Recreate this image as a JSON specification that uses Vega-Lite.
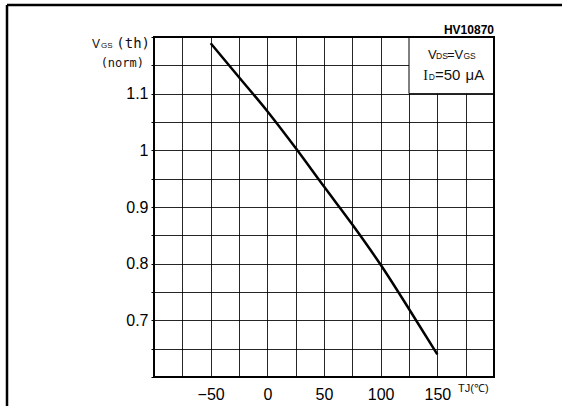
{
  "$schema": "https://vega.github.io/schema/vega-lite/v6.json",
  "width": 340,
  "height": 340,
  "autosize": {"type": "none"},
  "padding": {"left": 154, "top": 37, "right": 82, "bottom": 29},
  "background": "white",
  "config": {
    "view": {"stroke": null},
    "axis": {
      "grid": true,
      "gridColor": "#000000",
      "gridWidth": 1,
      "gridOpacity": 0.85,
      "domain": false,
      "labelFont": "Liberation Sans",
      "labelFontSize": 16,
      "labelColor": "#000000"
    },
    "text": {"font": "Liberation Sans", "fill": "#111111"}
  },
  "datasets": {
    "curve": [
      {"tj": -50, "vth": 1.189},
      {"tj": -25, "vth": 1.129},
      {"tj": 0, "vth": 1.069},
      {"tj": 25, "vth": 1.004},
      {"tj": 50, "vth": 0.936},
      {"tj": 75, "vth": 0.869},
      {"tj": 100, "vth": 0.798},
      {"tj": 125, "vth": 0.72},
      {"tj": 150, "vth": 0.64}
    ],
    "one": [{}]
  },
  "layer": [
    {
      "data": {"name": "curve"},
      "mark": {"type": "line", "color": "#000000", "strokeWidth": 2.5, "interpolate": "monotone"},
      "encoding": {
        "x": {"field": "tj", "type": "quantitative", "title": null, "scale": {"domain": [-100, 200], "nice": false, "zero": false},
          "axis": {"values": [-100, -75, -50, -25, 0, 25, 50, 75, 100, 125, 150, 175, 200], "labelExpr": "indexof([-50, 0, 50, 100, 150], datum.value) >= 0 ? format(datum.value, 'd') + (datum.value < 0 ? '\u2007' : '') : ''", "ticks": false, "labelPadding": 9}},
        "y": {"field": "vth", "type": "quantitative", "title": null, "scale": {"domain": [0.6, 1.2], "nice": false, "zero": false},
          "axis": {"values": [0.6, 0.65, 0.7, 0.75, 0.8, 0.85, 0.9, 0.95, 1, 1.05, 1.1, 1.15, 1.2], "labelExpr": "datum.value == 1 ? '1' : (indexof([0.7, 0.8, 0.9, 1.1], datum.value) >= 0 ? format(datum.value, '.1f') : '')", "ticks": true, "tickSize": 3, "tickColor": "#000000", "labelPadding": 3}}
      }
    },
    {
      "data": {"name": "one"},
      "mark": {"type": "rect", "fill": "white", "stroke": "#000000", "strokeWidth": 1},
      "encoding": {
        "x": {"datum": 125, "type": "quantitative", "title": null,
          "axis": {"values": [-100, -75, -50, -25, 0, 25, 50, 75, 100, 125, 150, 175, 200], "labelExpr": "indexof([-50, 0, 50, 100, 150], datum.value) >= 0 ? format(datum.value, 'd') + (datum.value < 0 ? '\u2007' : '') : ''", "ticks": false, "labelPadding": 9}},
        "x2": {"datum": 200},
        "y": {"datum": 1.1, "type": "quantitative", "title": null,
          "axis": {"values": [0.6, 0.65, 0.7, 0.75, 0.8, 0.85, 0.9, 0.95, 1, 1.05, 1.1, 1.15, 1.2], "labelExpr": "datum.value == 1 ? '1' : (indexof([0.7, 0.8, 0.9, 1.1], datum.value) >= 0 ? format(datum.value, '.1f') : '')", "ticks": true, "tickSize": 3, "tickColor": "#000000", "labelPadding": 3}},
        "y2": {"datum": 1.2}
      }
    },
    {
      "data": {"name": "one"},
      "mark": {"type": "rect", "fillOpacity": 0, "stroke": "#000000", "strokeWidth": 2},
      "encoding": {
        "x": {"datum": -100, "type": "quantitative", "title": null,
          "axis": {"values": [-100, -75, -50, -25, 0, 25, 50, 75, 100, 125, 150, 175, 200], "labelExpr": "indexof([-50, 0, 50, 100, 150], datum.value) >= 0 ? format(datum.value, 'd') + (datum.value < 0 ? '\u2007' : '') : ''", "ticks": false, "labelPadding": 9}},
        "x2": {"datum": 200},
        "y": {"datum": 0.6, "type": "quantitative", "title": null,
          "axis": {"values": [0.6, 0.65, 0.7, 0.75, 0.8, 0.85, 0.9, 0.95, 1, 1.05, 1.1, 1.15, 1.2], "labelExpr": "datum.value == 1 ? '1' : (indexof([0.7, 0.8, 0.9, 1.1], datum.value) >= 0 ? format(datum.value, '.1f') : '')", "ticks": true, "tickSize": 3, "tickColor": "#000000", "labelPadding": 3}},
        "y2": {"datum": 1.2}
      }
    },
    {
      "data": {"name": "one"},
      "mark": {"type": "rule", "color": "#000000", "strokeWidth": 2.5},
      "encoding": {
        "x": {"datum": -229.7, "type": "quantitative", "title": null,
          "axis": {"values": [-100, -75, -50, -25, 0, 25, 50, 75, 100, 125, 150, 175, 200], "labelExpr": "indexof([-50, 0, 50, 100, 150], datum.value) >= 0 ? format(datum.value, 'd') + (datum.value < 0 ? '\u2007' : '') : ''", "ticks": false, "labelPadding": 9}},
        "x2": {"datum": 260},
        "y": {"datum": 1.2565, "type": "quantitative", "title": null,
          "axis": {"values": [0.6, 0.65, 0.7, 0.75, 0.8, 0.85, 0.9, 0.95, 1, 1.05, 1.1, 1.15, 1.2], "labelExpr": "datum.value == 1 ? '1' : (indexof([0.7, 0.8, 0.9, 1.1], datum.value) >= 0 ? format(datum.value, '.1f') : '')", "ticks": true, "tickSize": 3, "tickColor": "#000000", "labelPadding": 3}}
      }
    },
    {
      "data": {"name": "one"},
      "mark": {"type": "rule", "color": "#000000", "strokeWidth": 2.5},
      "encoding": {
        "x": {"datum": -229.7, "type": "quantitative", "title": null,
          "axis": {"values": [-100, -75, -50, -25, 0, 25, 50, 75, 100, 125, 150, 175, 200], "labelExpr": "indexof([-50, 0, 50, 100, 150], datum.value) >= 0 ? format(datum.value, 'd') + (datum.value < 0 ? '\u2007' : '') : ''", "ticks": false, "labelPadding": 9}},
        "y": {"datum": 1.2565, "type": "quantitative", "title": null,
          "axis": {"values": [0.6, 0.65, 0.7, 0.75, 0.8, 0.85, 0.9, 0.95, 1, 1.05, 1.1, 1.15, 1.2], "labelExpr": "datum.value == 1 ? '1' : (indexof([0.7, 0.8, 0.9, 1.1], datum.value) >= 0 ? format(datum.value, '.1f') : '')", "ticks": true, "tickSize": 3, "tickColor": "#000000", "labelPadding": 3}},
        "y2": {"datum": 0.5}
      }
    },
    {
      "data": {"name": "one"},
      "encoding": {
        "x": {"datum": 200, "type": "quantitative", "title": null,
          "axis": {"values": [-100, -75, -50, -25, 0, 25, 50, 75, 100, 125, 150, 175, 200], "labelExpr": "indexof([-50, 0, 50, 100, 150], datum.value) >= 0 ? format(datum.value, 'd') + (datum.value < 0 ? '\u2007' : '') : ''", "ticks": false, "labelPadding": 9}},
        "y": {"datum": 1.2, "type": "quantitative", "title": null,
          "axis": {"values": [0.6, 0.65, 0.7, 0.75, 0.8, 0.85, 0.9, 0.95, 1, 1.05, 1.1, 1.15, 1.2], "labelExpr": "datum.value == 1 ? '1' : (indexof([0.7, 0.8, 0.9, 1.1], datum.value) >= 0 ? format(datum.value, '.1f') : '')", "ticks": true, "tickSize": 3, "tickColor": "#000000", "labelPadding": 3}}
      },
      "layer": [
        {"mark": {"type": "text", "text": "HV10870", "fontSize": 12, "fontWeight": "bold", "align": "right", "baseline": "alphabetic", "dy": -3, "fill": "#000000"}},
        {"mark": {"type": "text", "text": "V", "fontSize": 12, "align": "left", "baseline": "alphabetic", "dx": -402, "dy": 11}},
        {"mark": {"type": "text", "text": "GS", "fontSize": 8, "align": "left", "baseline": "alphabetic", "dx": -393, "dy": 11}},
        {"mark": {"type": "text", "text": "(th)", "font": "DejaVu Sans Mono", "fontSize": 14, "align": "right", "baseline": "alphabetic", "dx": -344, "dy": 11}},
        {"mark": {"type": "text", "text": "(norm)", "font": "DejaVu Sans Mono", "fontSize": 12, "align": "right", "baseline": "alphabetic", "dx": -350, "dy": 30}},
        {"mark": {"type": "text", "text": "V", "fontSize": 13, "align": "left", "baseline": "alphabetic", "dx": -66, "dy": 22}},
        {"mark": {"type": "text", "text": "DS", "fontSize": 8.5, "align": "left", "baseline": "alphabetic", "dx": -58, "dy": 22}},
        {"mark": {"type": "text", "text": "=V", "fontSize": 13, "align": "left", "baseline": "alphabetic", "dx": -47, "dy": 22}},
        {"mark": {"type": "text", "text": "GS", "fontSize": 8.5, "align": "left", "baseline": "alphabetic", "dx": -30.5, "dy": 22}},
        {"mark": {"type": "text", "text": "I", "font": "Liberation Serif", "fontSize": 14, "align": "left", "baseline": "alphabetic", "dx": -70.7, "dy": 43}},
        {"mark": {"type": "text", "text": "D", "fontSize": 8.5, "align": "left", "baseline": "alphabetic", "dx": -65.2, "dy": 43}},
        {"mark": {"type": "text", "text": "=50", "fontSize": 15, "align": "left", "baseline": "alphabetic", "dx": -59, "dy": 43}},
        {"mark": {"type": "text", "text": "μA", "fontSize": 15, "align": "left", "baseline": "alphabetic", "dx": -28.5, "dy": 43}},
        {"mark": {"type": "text", "text": "TJ(℃)", "fontSize": 11, "align": "left", "baseline": "alphabetic", "dx": -36, "dy": 355}}
      ]
    }
  ]
}
